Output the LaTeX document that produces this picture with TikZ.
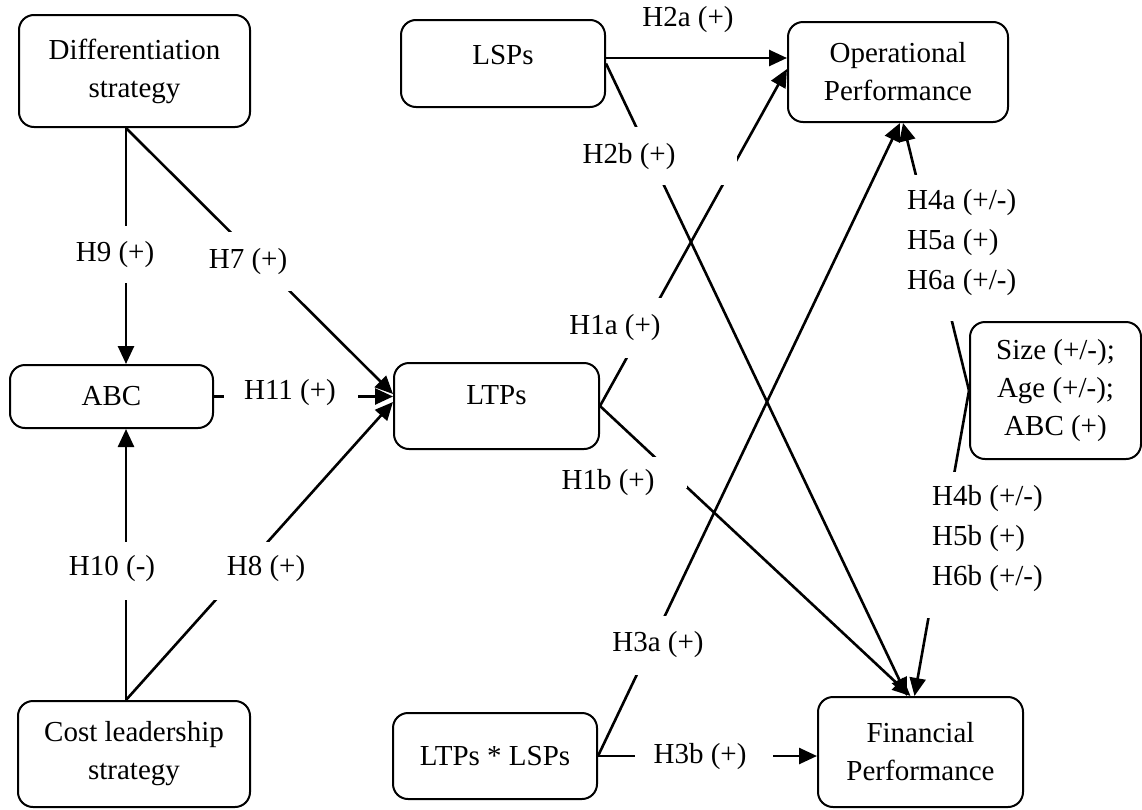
\documentclass[tikz,border=0pt]{standalone}
\usepackage{fontspec}
\setmainfont{Liberation Serif}
\usetikzlibrary{arrows.meta}
\begin{document}
\begin{tikzpicture}[x=1pt,y=-1pt,
  box/.style={draw, line width=2pt, rounded corners=15pt, align=center, inner sep=0pt, font=\fontsize{29}{38}\selectfont},
  conn/.style={line width=2.6pt, -{Triangle[length=18pt,width=16pt]}},
  hyp/.style={inner sep=0pt, font=\fontsize{29}{40}\selectfont, align=left},
  mask/.style={fill=white}]
\useasboundingbox (0,0) rectangle (1142,809);
% boxes
\node[box, minimum width=231pt, minimum height=112pt] (diff) at (134.5,71) {Differentiation\\strategy};
\node[box, minimum width=204pt, minimum height=87pt, text height=20pt, text depth=18pt] (lsps) at (503,63.5) {LSPs};
\node[box, minimum width=220pt, minimum height=100pt] (op) at (898,72) {Operational\\Performance};
\node[box, minimum width=203pt, minimum height=63pt] (abc) at (111.5,396.5) {ABC};
\node[box, minimum width=205pt, minimum height=86pt, text height=20pt, text depth=23pt] (ltps) at (496.5,406) {LTPs};
\node[box, minimum width=171pt, minimum height=137pt] (ctrl) at (1055.5,390.5) {Size (+/-);\\Age (+/-);\\ABC (+)};
\node[box, minimum width=232pt, minimum height=106pt] (cost) at (134,754) {Cost leadership\\strategy};
\node[box, minimum width=204pt, minimum height=86pt] (inter) at (495,756) {LTPs * LSPs};
\node[box, minimum width=205pt, minimum height=110pt] (fin) at (920.5,752) {Financial\\Performance};
% connectors
\draw[conn] ([xshift=-8.5pt]diff.south) -- ([xshift=14.5pt]abc.north);
\draw[conn] ([xshift=-8.5pt]diff.south) -- ([yshift=12pt]ltps.west);
\draw[conn] ([xshift=-8pt]cost.north) -- ([yshift=4pt]ltps.west);
\draw[conn] ([xshift=-8pt]cost.north) -- ([xshift=14.5pt]abc.south);
\draw[conn] (abc.east) -- (abc.east -| ltps.west);
\draw[conn] ([yshift=5.5pt]lsps.east) -- ([yshift=5.5pt]lsps.east -| op.west);
\draw[conn] (lsps.east) -- ([xshift=-13.5pt]fin.north);
\draw[conn] (ltps.east) -- ([yshift=3pt]op.west);
\draw[conn] (ltps.east) -- ([xshift=-10pt]fin.north);
\draw[conn] (inter.east) -- ([xshift=2pt]op.south);
\draw[conn] (inter.east) -- (inter.east -| fin.west);
\draw[conn] (ctrl.west) -- ([xshift=5pt]op.south);
\draw[conn] (ctrl.west) -- ([xshift=-6pt]fin.north);
% label backgrounds
\fill[mask] (118,226) rectangle (134,283);
\fill[mask] (226,232) rectangle (296,291);
\fill[mask] (224,385) rectangle (358,405);
\fill[mask] (118,542) rectangle (134,600);
\fill[mask] (208,542) rectangle (272,600);
\fill[mask] (575,127) rectangle (737,185);
\fill[mask] (560,298) rectangle (662,358);
\fill[mask] (555,457) rectangle (687,488);
\fill[mask] (605,616) rectangle (710,675);
\fill[mask] (635,746) rectangle (773,766);
\fill[mask] (905,175) rectangle (1020,321);
\fill[mask] (925,472) rectangle (1050,618);
% labels
\node[hyp] (l9) at (115,255) {H9 (+)};
\node[hyp] (l7) at (248,262) {H7 (+)};
\node[hyp] (l11) at (290,393) {H11 (+)};
\node[hyp] (l10) at (112,569) {H10 (-)};
\node[hyp] (l8) at (266,569) {H8 (+)};
\node[hyp] (l2a) at (688,20) {H2a (+)};
\node[hyp] (l2b) at (629,157) {H2b (+)};
\node[hyp] (l1a) at (615,328) {H1a (+)};
\node[hyp] (l1b) at (608,483) {H1b (+)};
\node[hyp] (l3a) at (658,645) {H3a (+)};
\node[hyp] (l3b) at (700,757) {H3b (+)};
\node[hyp, anchor=west] (l4a) at (907,243) {H4a (+/-)\\H5a (+)\\H6a (+/-)};
\node[hyp, anchor=west] (l4b) at (932,539) {H4b (+/-)\\H5b (+)\\H6b (+/-)};
\end{tikzpicture}
\end{document}
